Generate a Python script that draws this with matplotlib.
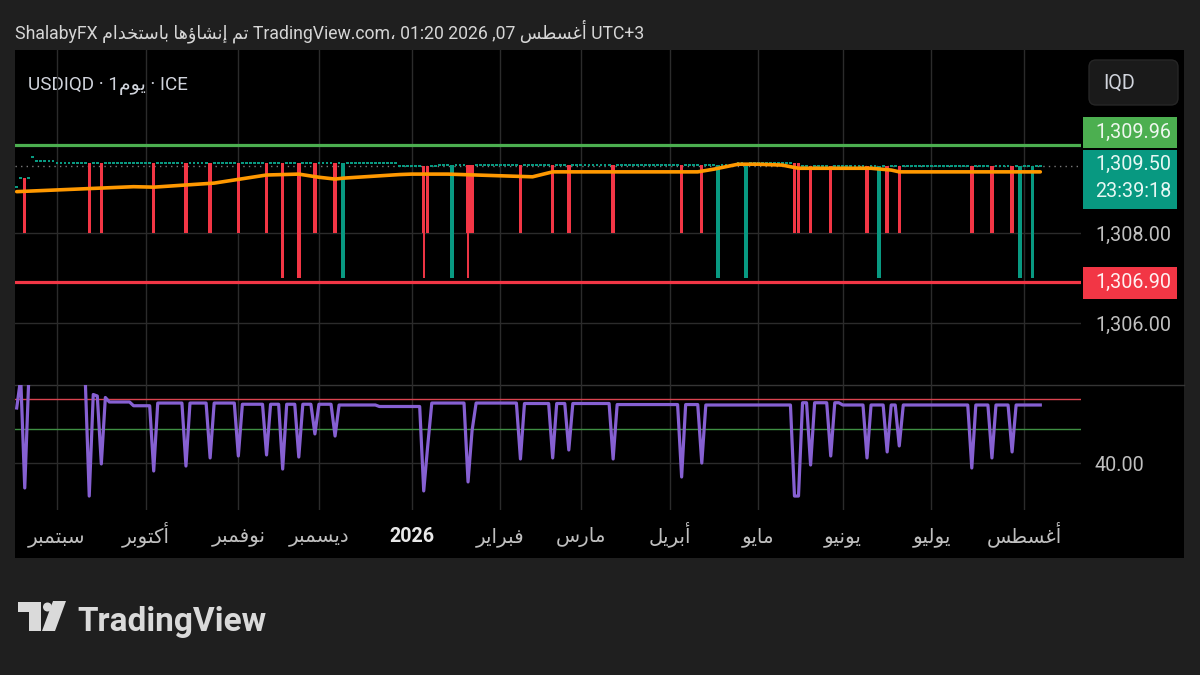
import numpy as np
import pandas as pd
import matplotlib
matplotlib.use('Agg')
import matplotlib.pyplot as plt
from matplotlib.patches import Rectangle, FancyBboxPatch, Circle, Polygon
from matplotlib.transforms import blended_transform_factory

# ---- values (USDIQD daily, ICE) ----
first_day = '2025-08-18'
last_day = '2026-08-07'

month_starts = ['2025-09-01', '2025-10-01', '2025-11-01', '2025-12-01', '2026-01-01', '2026-02-01',
                '2026-03-01', '2026-04-01', '2026-05-01', '2026-06-01', '2026-07-01', '2026-08-01']
month_labels = ['سبتمبر', 'أكتوبر', 'نوفمبر', 'ديسمبر', '2026', 'فبراير',
                'مارس', 'أبريل', 'مايو', 'يونيو', 'يوليو', 'أغسطس']

# flat close level, changes only on these days
level_dates = ['2025-08-18', '2025-08-19', '2025-08-22', '2025-08-25', '2025-09-01',
               '2025-12-29', '2026-01-12', '2026-04-24', '2026-05-18']
level_vals = [1309.02, 1309.22, 1309.68, 1309.60, 1309.55, 1309.48, 1309.52, 1309.56, 1309.50]

# red candles dropping out of the range
red_dates = ['2025-08-20', '2025-09-11', '2025-09-16', '2025-10-03', '2025-10-15', '2025-10-23',
             '2025-11-03', '2025-11-12', '2025-11-18', '2025-11-24', '2025-11-28', '2025-12-05',
             '2026-01-06', '2026-01-07', '2026-01-21', '2026-01-22', '2026-02-09', '2026-02-19',
             '2026-02-25', '2026-03-12', '2026-04-06', '2026-04-13', '2026-05-14', '2026-05-15',
             '2026-05-20', '2026-05-27', '2026-06-09', '2026-06-16', '2026-06-19', '2026-07-15',
             '2026-07-22', '2026-07-29']
red_close = [1308.0, 1308.0, 1308.0, 1308.0, 1308.0, 1308.0,
             1308.0, 1308.0, 1307.0, 1307.0, 1308.0, 1308.0,
             1308.0, 1308.0, 1308.0, 1308.0, 1308.0, 1308.0,
             1308.0, 1308.0, 1308.0, 1308.0, 1308.0, 1308.0,
             1308.0, 1308.0, 1308.0, 1308.0, 1308.0, 1308.0,
             1308.0, 1308.0]
red_low = [1308.0, 1308.0, 1308.0, 1308.0, 1308.0, 1308.0,
           1308.0, 1308.0, 1307.0, 1307.0, 1308.0, 1308.0,
           1307.0, 1308.0, 1307.0, 1308.0, 1308.0, 1308.0,
           1308.0, 1308.0, 1308.0, 1308.0, 1308.0, 1308.0,
           1308.0, 1308.0, 1308.0, 1308.0, 1308.0, 1308.0,
           1308.0, 1308.0]

# green candles opening at the low and closing back up
teal_dates = ['2025-12-09', '2026-01-15', '2026-04-17', '2026-04-28', '2026-06-12', '2026-07-31', '2026-08-05']
teal_open = [1307.0, 1307.0, 1307.0, 1307.0, 1307.0, 1307.0, 1307.0]

# orange moving average
ma_dates = ['2025-08-18', '2025-09-26', '2025-10-03', '2025-10-24', '2025-11-12', '2025-11-24',
            '2025-12-01', '2025-12-05', '2025-12-09', '2025-12-29', '2026-01-01', '2026-01-14',
            '2026-02-12', '2026-02-19', '2026-03-12', '2026-04-10', '2026-04-16', '2026-04-24',
            '2026-05-01', '2026-05-11', '2026-05-15', '2026-06-10', '2026-06-17', '2026-06-19',
            '2026-08-07']
ma_vals = [1308.92, 1309.03, 1309.02, 1309.11, 1309.29, 1309.31,
           1309.24, 1309.20, 1309.22, 1309.30, 1309.31, 1309.31,
           1309.25, 1309.36, 1309.36, 1309.36, 1309.42, 1309.53,
           1309.53, 1309.51, 1309.44, 1309.44, 1309.40, 1309.36,
           1309.36]

# oscillator (lower pane): resting level and the dips
osc_level_dates = ['2025-08-18', '2025-08-19', '2025-09-12', '2025-09-15', '2025-09-17', '2025-09-18',
                   '2025-09-26', '2025-10-06', '2025-11-04', '2025-12-08', '2025-12-22', '2026-01-08',
                   '2026-02-10', '2026-03-13', '2026-04-14', '2026-05-18', '2026-06-01']
osc_level_vals = [77, 97, 86, 85, 84, 81,
                  78.5, 80.3, 79.5, 79, 78, 80.3,
                  80, 79.3, 79, 80.5, 79]
osc_dip_dates = ['2025-08-20', '2025-09-11', '2025-09-16', '2025-10-03', '2025-10-15', '2025-10-23',
                 '2025-11-03', '2025-11-12', '2025-11-18', '2025-11-24', '2025-11-28', '2025-12-05',
                 '2026-01-06', '2026-01-07', '2026-01-21', '2026-01-22', '2026-02-09', '2026-02-19',
                 '2026-02-25', '2026-03-12', '2026-04-06', '2026-04-13', '2026-05-14', '2026-05-15',
                 '2026-05-20', '2026-05-27', '2026-06-09', '2026-06-16', '2026-06-19', '2026-07-15',
                 '2026-07-22', '2026-07-29']
osc_dip_vals = [23.7, 18.3, 39.7, 35.0, 38.3, 43.7,
                45.0, 45.7, 36.3, 44.3, 59.7, 58.3,
                21.7, 52.0, 27.7, 62.0, 43.0, 43.7,
                49.0, 43.0, 31.0, 40.3, 18.3, 18.3,
                39.0, 45.0, 43.7, 47.7, 51.7, 37.0,
                43.7, 47.7]
osc_upper = 83
osc_lower = 63

resistance = 1309.96
support = 1306.90
last_price = 1309.50
countdown = '23:39:18'
price_ticks = [1306, 1308]
price_tick_labels = ['1,306.00', '1,308.00']
osc_ticks = [40]
osc_tick_labels = ['40.00']

# ---- colours / fonts ----
BG = '#1f1f1f'
GRID = '#2b2b2b'
TXT = '#bfbfbf'
TEAL = '#089981'
RED = '#f23645'
GREEN = '#4caf50'
ORANGE = '#ff9800'
PURPLE = '#8660d2'
FS = 14.2
plt.rcParams['font.family'] = ['Roboto', 'DejaVu Sans']

# contextual Arabic forms (matplotlib does no shaping), returned in visual order
AR_FORMS = {
    'ا': ('\ufe8d', '\ufe8e', None, None), 'أ': ('\ufe83', '\ufe84', None, None),
    'إ': ('\ufe87', '\ufe88', None, None), 'ؤ': ('\ufe85', '\ufe86', None, None),
    'ب': ('\ufe8f', '\ufe90', '\ufe91', '\ufe92'), 'ت': ('\ufe95', '\ufe96', '\ufe97', '\ufe98'),
    'خ': ('\ufea5', '\ufea6', '\ufea7', '\ufea8'), 'د': ('\ufea9', '\ufeaa', None, None),
    'ر': ('\ufead', '\ufeae', None, None), 'س': ('\ufeb1', '\ufeb2', '\ufeb3', '\ufeb4'),
    'ش': ('\ufeb5', '\ufeb6', '\ufeb7', '\ufeb8'), 'ط': ('\ufec1', '\ufec2', '\ufec3', '\ufec4'),
    'غ': ('\ufecd', '\ufece', '\ufecf', '\ufed0'), 'ف': ('\ufed1', '\ufed2', '\ufed3', '\ufed4'),
    'ك': ('\ufed9', '\ufeda', '\ufedb', '\ufedc'), 'ل': ('\ufedd', '\ufede', '\ufedf', '\ufee0'),
    'م': ('\ufee1', '\ufee2', '\ufee3', '\ufee4'), 'ن': ('\ufee5', '\ufee6', '\ufee7', '\ufee8'),
    'ه': ('\ufee9', '\ufeea', '\ufeeb', '\ufeec'), 'و': ('\ufeed', '\ufeee', None, None),
    'ي': ('\ufef1', '\ufef2', '\ufef3', '\ufef4'),
}


def ar(text):
    if not any(ch in AR_FORMS for ch in text):
        return text
    out = []
    for i, ch in enumerate(text):
        forms = AR_FORMS.get(ch)
        if forms is None:
            out.append(ch)
            continue
        prev = text[i - 1] if i > 0 else ''
        nxt = text[i + 1] if i + 1 < len(text) else ''
        join_prev = prev in AR_FORMS and AR_FORMS[prev][2] is not None
        join_next = forms[2] is not None and nxt in AR_FORMS
        if join_prev and join_next:
            out.append(forms[3])
        elif join_prev:
            out.append(forms[1])
        elif join_next:
            out.append(forms[2])
        else:
            out.append(forms[0])
    return ''.join(out)[::-1]


# ---- series on a business-day index ----
days = pd.bdate_range(first_day, last_day)
x = np.arange(len(days))


def ix(dates):
    return days.get_indexer(pd.to_datetime(dates))


month_idx = days.searchsorted(pd.to_datetime(month_starts))
level = pd.Series(level_vals, index=pd.to_datetime(level_dates)).reindex(days, method='ffill').values
osc = pd.Series(osc_level_vals, index=pd.to_datetime(osc_level_dates), dtype=float).reindex(days, method='ffill')
osc.iloc[ix(osc_dip_dates)] = osc_dip_vals

r_idx = ix(red_dates)
t_idx = ix(teal_dates)
base = np.ones(len(days), bool)
base[r_idx] = False
base[t_idx] = False

# ---- figure ----
fig = plt.figure(figsize=(12, 6.75), dpi=100, facecolor=BG)
W, H = 1200, 675

over = fig.add_axes([0, 0, 1, 1], zorder=0)
over.set_xlim(0, W)
over.set_ylim(H, 0)
over.axis('off')
over.add_patch(Rectangle((15, 50), 1169, 508, color='black', lw=0))
over.plot([15, 1184], [385, 385], color='#353535', lw=1)


def pane(top, bottom):
    a = fig.add_axes([15 / W, 1 - bottom / H, 1066 / W, (bottom - top) / H], zorder=1)
    a.set_facecolor('none')
    for s in a.spines.values():
        s.set_visible(False)
    a.set_xlim(-0.42, 264.1)
    a.set_xticks(month_idx)
    a.grid(axis='both', color=GRID, lw=1)
    a.yaxis.tick_right()
    a.tick_params(axis='y', length=0, pad=10, labelsize=FS, labelcolor=TXT)
    a.tick_params(axis='x', length=0)
    return a


ax = pane(50, 385)
ax.set_ylim(1304.62, 1312.07)
ax.set_yticks(price_ticks, price_tick_labels)
ax.tick_params(axis='x', labelbottom=False)

# candles
BW = 0.85
ax.bar(x[base], 0.045, bottom=level[base] - 0.022, width=0.7, color=TEAL, lw=0, zorder=2)
r_open = level[r_idx]
ax.vlines(r_idx, red_low, red_close, color=RED, lw=1.4, zorder=2)
ax.bar(r_idx, np.array(red_close) - r_open, bottom=r_open, width=BW, color=RED, lw=0, zorder=2)
ax.bar(t_idx, level[t_idx] - np.array(teal_open), bottom=teal_open, width=BW, color=TEAL, lw=0, zorder=2)

ax.plot(ix(ma_dates), ma_vals, color=ORANGE, lw=2.6, solid_joinstyle='round', solid_capstyle='round', zorder=3)
ax.axhline(resistance, color=GREEN, lw=2.3, zorder=4)
ax.axhline(support, color=RED, lw=2.3, zorder=4)
ax.axhline(last_price, color='#7a7a7a', lw=1, ls=(0, (1, 3)), zorder=1)

# price-scale labels
tr = blended_transform_factory(ax.transAxes, ax.transData)
bx, bw, tx = 1 + 2 / 1066, 94 / 1066, 1 + 14 / 1066
ax.add_patch(Rectangle((bx, resistance - 0.07), bw, 0.69, transform=tr, color=GREEN, lw=0, clip_on=False))
ax.text(tx, resistance + 0.28, f'{resistance:,.2f}', transform=tr, va='center', fontsize=FS, color='#eef7ee')
ax.add_patch(Rectangle((bx, last_price - 0.97), bw, 1.31, transform=tr, color=TEAL, lw=0, clip_on=False))
ax.text(tx, last_price + 0.03, f'{last_price:,.2f}', transform=tr, va='center', fontsize=FS, color='#e6f7f3')
ax.text(tx, last_price - 0.57, countdown, transform=tr, va='center', fontsize=FS, color='#e6f7f3')
ax.add_patch(Rectangle((bx, support - 0.36), bw, 0.71, transform=tr, color=RED, lw=0, clip_on=False))
ax.text(tx, support, f'{support:,.2f}', transform=tr, va='center', fontsize=FS, color='#fff0f1')

# lower pane
ax2 = pane(385, 510)
ax2.set_ylim(9.0, 92.33)
ax2.set_yticks(osc_ticks, osc_tick_labels)
ax2.axhline(osc_upper, color='#d9434f', lw=1)
ax2.axhline(osc_lower, color='#3f8f43', lw=1)
ax2.plot(x, osc.values, color=PURPLE, lw=2.3, solid_joinstyle='round')
ax2.set_xticks(month_idx, [ar(m) for m in month_labels])
ax2.tick_params(axis='x', pad=23, labelsize=FS, labelcolor=TXT)
for lbl in ax2.get_xticklabels():
    lbl.set_verticalalignment('baseline')
    if lbl.get_text() == '2026':
        lbl.set_fontweight('bold')
        lbl.set_color('#e8e8e8')

# header texts
title = ('ShalabyFX ' + ar('تم إنشاؤها باستخدام') + ' TradingView.com، 01:20 2026 ,07 '
         + ar('أغسطس') + ' UTC+3')
over.text(15, 38, title, fontsize=12.7, color='#d6d6d6', va='baseline')
over.text(28, 90, 'USDIQD · 1' + ar('يوم') + ' · ICE', fontsize=13.6, color='#d1d4dc', va='baseline')

over.add_patch(FancyBboxPatch((1089, 60), 89, 45, boxstyle='round,pad=0,rounding_size=7',
                              fc='#1a1a1a', ec='#262626', lw=1))
over.text(1103, 83, 'IQD', fontsize=FS, color='#d1d4dc', va='center')

# TradingView logo
LOGO = '#dadada'
over.add_patch(Polygon([(18, 602), (41, 602), (41, 631), (29, 631), (29, 612), (18, 612)], color=LOGO, lw=0))
over.add_patch(Circle((47.5, 607), 4.5, color=LOGO, lw=0))
over.add_patch(Polygon([(53, 601), (66, 601), (55, 631), (42, 631)], color=LOGO, lw=0))
over.text(77, 631, 'TradingView', fontsize=24, fontweight='bold', color=LOGO, va='baseline')

fig.savefig('out.png', dpi=100, facecolor=BG)
